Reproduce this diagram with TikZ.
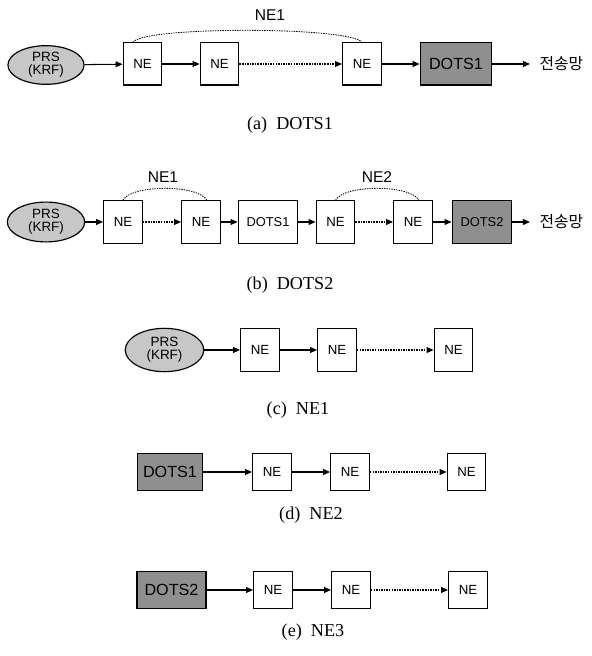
\documentclass[tikz,border=0pt]{standalone}
\usepackage{fontspec}
\setmainfont{Liberation Serif}
\setsansfont{Liberation Sans}
\newfontfamily\krfont{Noto Sans CJK KR}
\usetikzlibrary{arrows.meta, shapes.geometric}
\definecolor{prsfill}{gray}{0.78}
\definecolor{dotsfill}{gray}{0.56}

\begin{document}
\begin{tikzpicture}[x=0.03cm, y=-0.03cm, >={Triangle[length=6pt,width=5pt]},
  ne/.style={draw, line width=1pt, fill=white, minimum width=33pt, minimum height=36pt, inner sep=0pt, font=\sffamily\fontsize{11.3}{12}\selectfont},
  dots/.style={ne, fill=dotsfill, font=\sffamily\fontsize{13.8}{14}\selectfont},
  dotsw/.style={ne, font=\sffamily\fontsize{11}{12}\selectfont},
  prs/.style={draw, ellipse, line width=1pt, fill=prsfill, inner sep=0pt, align=center, font=\sffamily\fontsize{11.5}{11}\selectfont},
  link/.style={->, line width=0.9pt},
  dlink/.style={->, line width=0.9pt, dash pattern=on 1.3pt off 0.9pt},
  span/.style={line width=0.7pt, dash pattern=on 1.2pt off 0.9pt},
  tag/.style={font=\sffamily\fontsize{13.3}{14}\selectfont},
  net/.style={font=\krfont\fontsize{13.5}{14}\selectfont, anchor=west, inner xsep=8pt},
  subcap/.style={font=\fontsize{15.5}{16}\selectfont}]
\useasboundingbox (0,0) rectangle (591,656);
% (a) DOTS1
\node[prs, minimum width=65pt, minimum height=33pt] (prsA) at (46,65) {PRS\\(KRF)};
\node[ne] (neA1) at (142.5,64) {NE};
\node[ne] (neA2) at (219.5,64) {NE};
\node[ne] (neA3) at (362,64) {NE};
\node[dots, minimum width=61pt] (dotsA) at (456,64) {DOTS1};
\node[net] (netA) at (530,64) {전송망};
\draw[link] (prsA) -- (neA1);
\draw[link] (neA1) -- (neA2);
\draw[dlink] (neA2) -- (neA3);
\draw[link] (neA3) -- (dotsA);
\draw[link] (dotsA) -- (netA);
\draw[span] ([xshift=-8pt]neA1.north) .. controls +(8,-16) and +(-12,-16) .. (neA3.north);
\node[tag] (labA) at (270,15) {NE1};
\node[subcap] (capA) at (290,125) {(a)\enspace DOTS1};
% (b) DOTS2
\node[prs, minimum width=66pt, minimum height=34pt] (prsB) at (46,222) {PRS\\(KRF)};
\node[ne] (neB1) at (123,222) {NE};
\node[ne] (neB2) at (201,222) {NE};
\node[dotsw, minimum width=51pt] (dotsB1) at (268,222) {DOTS1};
\node[ne] (neB3) at (335.5,222) {NE};
\node[ne] (neB4) at (413,222) {NE};
\node[dots, minimum width=51pt, font=\sffamily\fontsize{11}{12}\selectfont] (dotsB2) at (482,222) {DOTS2};
\node[net] (netB) at (530,222) {전송망};
\draw[link] (prsB) -- (neB1);
\draw[dlink] (neB1) -- (neB2);
\draw[link] (neB2) -- (dotsB1);
\draw[link] (dotsB1) -- (neB3);
\draw[dlink] (neB3) -- (neB4);
\draw[link] (neB4) -- (dotsB2);
\draw[link] (dotsB2) -- (netB);
\draw[span] (neB1.north) .. controls +(8,-16) and +(-8,-16) .. ([xshift=5pt]neB2.north);
\draw[span] (neB3.north) .. controls +(8,-16) and +(-8,-16) .. ([xshift=5pt]neB4.north);
\node[tag] (labB1) at (163,177) {NE1};
\node[tag] (labB2) at (377,177) {NE2};
\node[subcap] (capB) at (290,285) {(b)\enspace DOTS2};
% (c) NE1
\node[prs, minimum width=67pt, minimum height=37pt] (prsC) at (164.5,350) {PRS\\(KRF)};
\node[ne, minimum height=37pt] (neC1) at (260,350) {NE};
\node[ne, minimum height=37pt] (neC2) at (337,350) {NE};
\node[ne, minimum height=37pt] (neC3) at (453.5,350) {NE};
\draw[link] (prsC) -- (neC1);
\draw[link] (neC1) -- (neC2);
\draw[dlink] (neC2) -- (neC3);
\node[subcap] (capC) at (298,410) {(c)\enspace NE1};
% (d) NE2
\node[dots, minimum width=56pt, minimum height=32pt] (dotsD) at (170,472) {DOTS1};
\node[ne, minimum height=32pt] (neD1) at (272,472) {NE};
\node[ne, minimum height=32pt] (neD2) at (350,472) {NE};
\node[ne, minimum height=32pt] (neD3) at (466.5,472) {NE};
\draw[link] (dotsD) -- (neD1);
\draw[link] (neD1) -- (neD2);
\draw[dlink] (neD2) -- (neD3);
\node[subcap] (capD) at (311,515) {(d)\enspace NE2};
% (e) NE3
\node[dots, minimum width=59pt, minimum height=31.5pt] (dotsE) at (171.5,590) {DOTS2};
\node[ne, minimum height=31.5pt] (neE1) at (273,590) {NE};
\node[ne, minimum height=31.5pt] (neE2) at (351,590) {NE};
\node[ne, minimum height=31.5pt] (neE3) at (468,590) {NE};
\draw[link] (dotsE) -- (neE1);
\draw[link] (neE1) -- (neE2);
\draw[dlink] (neE2) -- (neE3);
\node[subcap] (capE) at (313,632) {(e)\enspace NE3};
\end{tikzpicture}
\end{document}
